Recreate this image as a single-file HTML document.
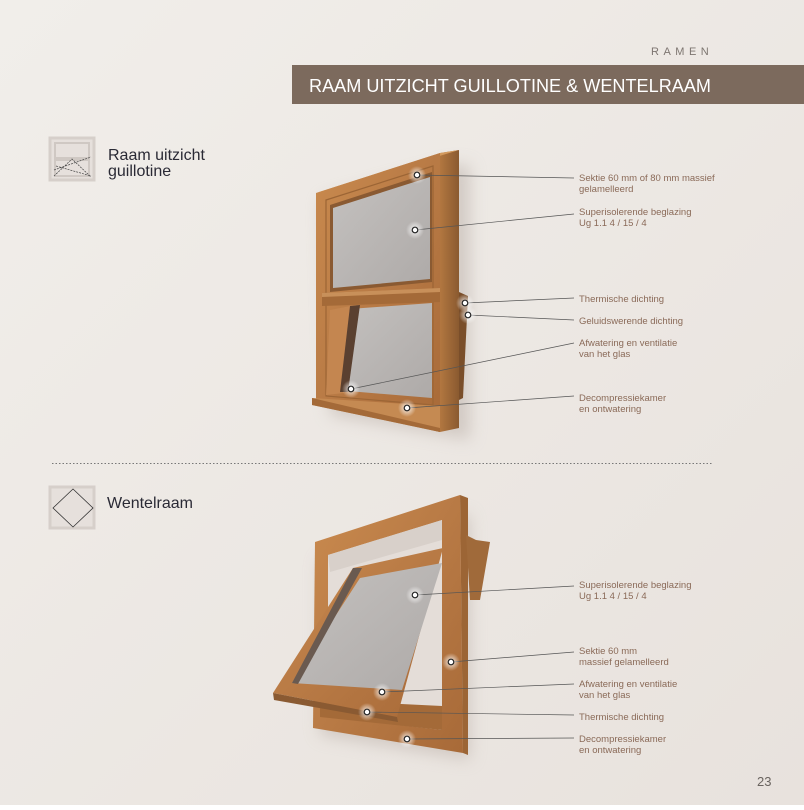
<!DOCTYPE html>
<html><head><meta charset="utf-8"><style>
html,body{margin:0;padding:0}
body{width:804px;height:805px;overflow:hidden;font-family:"Liberation Sans",sans-serif}
</style></head><body>
<svg width="804" height="805" viewBox="0 0 804 805" xmlns="http://www.w3.org/2000/svg" font-family="Liberation Sans, sans-serif">
<defs>
<linearGradient id="bg" x1="0" y1="0" x2="1" y2="1">
<stop offset="0" stop-color="#f1eeea"/><stop offset="1" stop-color="#e8e2dd"/></linearGradient>
<linearGradient id="wood" x1="0" y1="0" x2="1" y2="1">
<stop offset="0" stop-color="#c98a4e"/><stop offset="0.5" stop-color="#b87a45"/><stop offset="1" stop-color="#a86a38"/></linearGradient>
<linearGradient id="side" x1="0" y1="0" x2="1" y2="0">
<stop offset="0" stop-color="#b27740"/><stop offset="1" stop-color="#8a5a30"/></linearGradient>
<linearGradient id="glass" x1="0" y1="0" x2="1" y2="1">
<stop offset="0" stop-color="#c4c1bf"/><stop offset="1" stop-color="#aeaaa8"/></linearGradient>
<radialGradient id="glow"><stop offset="0" stop-color="#fff" stop-opacity="0.9"/><stop offset="1" stop-color="#fff" stop-opacity="0"/></radialGradient>
<filter id="sh" x="-20%" y="-20%" width="140%" height="140%"><feGaussianBlur stdDeviation="8"/></filter>
</defs>
<rect width="804" height="805" fill="url(#bg)"/>
<text x="651" y="55" font-size="11" fill="#7d7570" letter-spacing="4.5">RAMEN</text>
<rect x="292" y="65" width="512" height="39" fill="#7c6a5d"/>
<text x="309" y="92" font-size="18" fill="#fff" textLength="402" lengthAdjust="spacingAndGlyphs">RAAM UITZICHT GUILLOTINE &amp; WENTELRAAM</text>

<!-- icon 1 -->
<rect x="50" y="138" width="44" height="42" fill="#e6e0dc" stroke="#d6cfca" stroke-width="3"/>
<rect x="55" y="143" width="34" height="15" fill="none" stroke="#cfc8c3" stroke-width="2"/>
<rect x="55" y="160" width="34" height="16" fill="none" stroke="#cfc8c3" stroke-width="2"/>
<path d="M54 176 L72 159 L91 177 M54 170 L91 157 M56 166 L91 176" fill="none" stroke="#444" stroke-width="0.7" stroke-dasharray="2 1"/>
<text x="108" y="160" font-size="16" fill="#2a2a35">Raam uitzicht</text>
<text x="108" y="176" font-size="16" fill="#2a2a35">guillotine</text>

<line x1="52" y1="463.5" x2="713" y2="463.5" stroke="#777" stroke-width="1" stroke-dasharray="1.5 2"/>

<!-- icon 2 -->
<rect x="50" y="487" width="44" height="41" fill="#e6e0dc" stroke="#d6cfca" stroke-width="3"/>
<path d="M73 489 L93 508 L73 527 L53 508 Z" fill="none" stroke="#333" stroke-width="0.8"/>
<text x="107" y="508" font-size="16" fill="#2a2a35">Wentelraam</text>

<!-- window 1 -->
<polygon points="322,200 450,165 470,165 470,440 330,415" fill="#b8aca4" opacity="0.5" filter="url(#sh)"/>
<polygon points="440,153 459,150 459,428 440,432" fill="url(#side)"/>
<polygon points="316,193 440,153 459,150 335,188" fill="#d39a5e"/>
<polygon points="316,193 440,153 440,432 316,402" fill="url(#wood)"/>
<polygon points="326,200 433,166 433,405 326,396" fill="none" stroke="#9c6535" stroke-width="1.2"/>
<polygon points="459,292 468,296 463,398 459,400" fill="#7a4e2a"/>
<polygon points="330,205 432,172 432,282 330,292" fill="#8a5a32"/>
<polygon points="333,208 430,177 430,279 333,288" fill="url(#glass)"/>
<polygon points="322,293 440,288 440,302 322,306" fill="#a46a38"/>
<polygon points="322,293 440,288 440,292 322,297" fill="#c8905a"/>
<polygon points="336,310 432,303 432,398 336,390" fill="url(#glass)"/>
<polygon points="330,310 356,305 344,393 326,395" fill="#c48650"/>
<polygon points="350,306 360,305 348,392 340,392" fill="#5a4030"/>
<polygon points="312,398 440,406 440,432 312,405" fill="#c58a52"/>
<polygon points="312,398 312,405 440,432 440,428" fill="#a46a38"/>

<!-- window 2 -->
<polygon points="320,560 460,515 470,515 470,760 320,735" fill="#b8aca4" opacity="0.5" filter="url(#sh)"/>
<polygon points="460,495 468,498 468,755 463,753" fill="#9c6535"/>
<polygon points="466,535 476,540 490,542 480,600 470,600" fill="#a06a3a"/>
<polygon points="315,542 460,495 463,753 313,728" fill="url(#wood)"/>
<polygon points="328,555 442,520 442,730 328,717" fill="#e4ddd8"/>
<polygon points="328,555 442,520 442,540 330,572" fill="#d8d0ca"/>
<polygon points="320,700 442,706 442,730 320,717" fill="#a46a38"/>
<polygon points="353,568 443,548 397,717 273,693" fill="url(#wood)"/>
<polygon points="360,578 442,563 402,690 292,683" fill="url(#glass)"/>
<polygon points="353,568 362,568 298,684 292,683" fill="#6a5a50"/>
<polygon points="273,693 397,717 398,722 274,700" fill="#8a5a32"/>

<!-- leaders -->
<g stroke="#555" stroke-width="0.7" fill="none">
<line x1="417" y1="175" x2="574" y2="178"/>
<line x1="415" y1="230" x2="574" y2="214"/>
<line x1="465" y1="303" x2="574" y2="298"/>
<line x1="468" y1="315" x2="574" y2="320"/>
<line x1="351" y1="389" x2="574" y2="343"/>
<line x1="407" y1="408" x2="574" y2="396"/>
<line x1="415" y1="595" x2="574" y2="586"/>
<line x1="451" y1="662" x2="574" y2="652"/>
<line x1="382" y1="692" x2="574" y2="684"/>
<line x1="367" y1="712" x2="574" y2="715"/>
<line x1="407" y1="739" x2="574" y2="738"/>
</g>
<g fill="none" stroke="#222" stroke-width="1.2">
<circle cx="417" cy="175" r="9" fill="url(#glow)" stroke="none"/><circle cx="417" cy="175" r="2.8" fill="#fff"/>
<circle cx="415" cy="230" r="9" fill="url(#glow)" stroke="none"/><circle cx="415" cy="230" r="2.8" fill="#fff"/>
<circle cx="465" cy="303" r="9" fill="url(#glow)" stroke="none"/><circle cx="465" cy="303" r="2.8" fill="#fff"/>
<circle cx="468" cy="315" r="9" fill="url(#glow)" stroke="none"/><circle cx="468" cy="315" r="2.8" fill="#fff"/>
<circle cx="351" cy="389" r="9" fill="url(#glow)" stroke="none"/><circle cx="351" cy="389" r="2.8" fill="#fff"/>
<circle cx="407" cy="408" r="9" fill="url(#glow)" stroke="none"/><circle cx="407" cy="408" r="2.8" fill="#fff"/>
<circle cx="415" cy="595" r="9" fill="url(#glow)" stroke="none"/><circle cx="415" cy="595" r="2.8" fill="#fff"/>
<circle cx="451" cy="662" r="9" fill="url(#glow)" stroke="none"/><circle cx="451" cy="662" r="2.8" fill="#fff"/>
<circle cx="382" cy="692" r="9" fill="url(#glow)" stroke="none"/><circle cx="382" cy="692" r="2.8" fill="#fff"/>
<circle cx="367" cy="712" r="9" fill="url(#glow)" stroke="none"/><circle cx="367" cy="712" r="2.8" fill="#fff"/>
<circle cx="407" cy="739" r="9" fill="url(#glow)" stroke="none"/><circle cx="407" cy="739" r="2.8" fill="#fff"/>
</g>

<g font-size="9.5" fill="#8a6a58">
<text x="579" y="181">Sektie 60 mm of 80 mm massief</text>
<text x="579" y="192">gelamelleerd</text>
<text x="579" y="215">Superisolerende beglazing</text>
<text x="579" y="226">Ug 1.1  4 / 15 / 4</text>
<text x="579" y="302">Thermische dichting</text>
<text x="579" y="324">Geluidswerende dichting</text>
<text x="579" y="346">Afwatering en ventilatie</text>
<text x="579" y="357">van het glas</text>
<text x="579" y="401">Decompressiekamer</text>
<text x="579" y="412">en ontwatering</text>
<text x="579" y="588">Superisolerende beglazing</text>
<text x="579" y="599">Ug 1.1  4 / 15 / 4</text>
<text x="579" y="654">Sektie 60 mm</text>
<text x="579" y="665">massief gelamelleerd</text>
<text x="579" y="687">Afwatering en ventilatie</text>
<text x="579" y="698">van het glas</text>
<text x="579" y="720">Thermische dichting</text>
<text x="579" y="742">Decompressiekamer</text>
<text x="579" y="753">en ontwatering</text>
</g>
<text x="757" y="786" font-size="13" fill="#6a6460">23</text>
</svg>
</body></html>
